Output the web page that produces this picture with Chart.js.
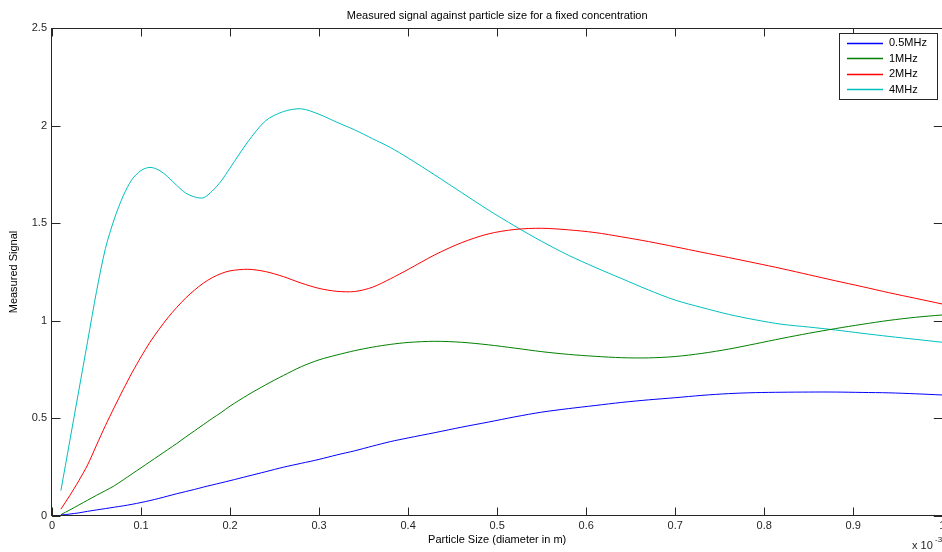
<!DOCTYPE html>
<html>
<head>
<meta charset="utf-8">
<script src="https://cdn.jsdelivr.net/npm/chart.js@4.4.1/dist/chart.umd.min.js"></script>
<style>
  html, body { margin: 0; padding: 0; background: #fff; overflow: hidden; width: 942px; height: 552px; }
  canvas { display: block; }
</style>
</head>
<body>
<canvas id="c" width="960" height="552"></canvas>
<script>
// Particle size (diameter, units of 1e-3 m)
const sizes = [0.01, 0.02, 0.03, 0.04, 0.05, 0.06, 0.07, 0.08, 0.09, 0.10,
  0.11, 0.12, 0.13, 0.14, 0.15, 0.16, 0.17, 0.18, 0.19, 0.20,
  0.22, 0.24, 0.26, 0.28, 0.30, 0.32, 0.34, 0.36, 0.38, 0.40,
  0.43, 0.46, 0.49, 0.52, 0.55, 0.58, 0.61, 0.64, 0.67, 0.70,
  0.73, 0.76, 0.79, 0.82, 0.85, 0.88, 0.91, 0.94, 0.97, 1.00];

const signal05MHz = [0.005, 0.010, 0.016, 0.024, 0.031, 0.038, 0.045, 0.052, 0.060, 0.069,
  0.079, 0.090, 0.102, 0.114, 0.125, 0.136, 0.148, 0.159, 0.170, 0.181,
  0.204, 0.227, 0.250, 0.270, 0.290, 0.313, 0.334, 0.358, 0.381, 0.400,
  0.427, 0.455, 0.481, 0.508, 0.532, 0.550, 0.566, 0.582, 0.595, 0.606,
  0.618, 0.627, 0.632, 0.634, 0.635, 0.635, 0.633, 0.631, 0.626, 0.620];

const signal1MHz = [0.007, 0.031, 0.056, 0.081, 0.106, 0.130, 0.155, 0.185, 0.216, 0.247,
  0.278, 0.309, 0.340, 0.371, 0.404, 0.436, 0.468, 0.500, 0.530, 0.563,
  0.620, 0.672, 0.720, 0.765, 0.800, 0.825, 0.847, 0.865, 0.879, 0.889,
  0.895, 0.890, 0.877, 0.860, 0.842, 0.828, 0.818, 0.811, 0.810, 0.817,
  0.833, 0.855, 0.882, 0.910, 0.936, 0.960, 0.982, 1.002, 1.018, 1.030];

const signal2MHz = [0.035, 0.105, 0.180, 0.262, 0.363, 0.463, 0.557, 0.648, 0.735, 0.815,
  0.890, 0.955, 1.015, 1.068, 1.116, 1.157, 1.193, 1.221, 1.242, 1.256,
  1.264, 1.252, 1.226, 1.193, 1.166, 1.151, 1.150, 1.172, 1.215, 1.263,
  1.338, 1.400, 1.445, 1.468, 1.474, 1.466, 1.452, 1.430, 1.406, 1.379,
  1.351, 1.324, 1.296, 1.267, 1.236, 1.205, 1.175, 1.144, 1.115, 1.086];

const signal4MHz = [0.130, 0.385, 0.640, 0.895, 1.150, 1.370, 1.522, 1.640, 1.725, 1.770,
  1.786, 1.772, 1.738, 1.694, 1.655, 1.635, 1.630, 1.665, 1.716, 1.783,
  1.917, 2.025, 2.072, 2.086, 2.058, 2.017, 1.978, 1.933, 1.888, 1.834,
  1.747, 1.657, 1.568, 1.485, 1.407, 1.336, 1.274, 1.216, 1.158, 1.106,
  1.068, 1.033, 1.005, 0.982, 0.968, 0.953, 0.936, 0.920, 0.905, 0.890];

const seriesLabels = ['0.5MHz', '1MHz', '2MHz', '4MHz'];
const seriesColors = ['#0000ff', '#008000', '#ff0000', '#00bfbf'];
const seriesValues = [signal05MHz, signal1MHz, signal2MHz, signal4MHz];

const FONT = 'Arial, "Liberation Sans", Helvetica, sans-serif';

const datasets = seriesValues.map((vals, i) => ({
  label: seriesLabels[i],
  data: sizes.map((s, j) => ({ x: s, y: vals[j] })),
  borderColor: seriesColors[i],
  backgroundColor: seriesColors[i],
  borderWidth: 1,
  pointRadius: 0,
  fill: false,
  tension: 0.3
}));

const fmt = v => String(Number(Number(v).toFixed(3)));

const matlabAxes = {
  id: 'matlabAxes',
  afterDraw(chart) {
    const { ctx, chartArea: a, scales } = chart;
    const xs = scales.x, ys = scales.y;
    ctx.save();
    ctx.strokeStyle = '#262626';
    ctx.lineWidth = 1;
    // box
    ctx.strokeRect(Math.round(a.left) - 0.5, Math.round(a.top) + 0.5,
      Math.round(a.right) - Math.round(a.left) + 1, Math.round(a.bottom) - Math.round(a.top) - 1);
    // inner ticks
    const tl = 8.5;
    ctx.beginPath();
    xs.ticks.forEach(t => {
      const px = Math.round(xs.getPixelForValue(t.value)) + 0.5;
      ctx.moveTo(px, a.bottom); ctx.lineTo(px, a.bottom - tl);
      ctx.moveTo(px, a.top); ctx.lineTo(px, a.top + tl);
    });
    ys.ticks.forEach(t => {
      const py = Math.round(ys.getPixelForValue(t.value)) + 0.5;
      ctx.moveTo(a.left, py); ctx.lineTo(a.left + tl, py);
      ctx.moveTo(a.right, py); ctx.lineTo(a.right - tl, py);
    });
    ctx.stroke();

    // exponent label
    ctx.fillStyle = '#262626';
    ctx.textBaseline = 'alphabetic';
    ctx.textAlign = 'left';
    ctx.font = '11px ' + FONT;
    ctx.fillText('x 10', 912, 549);
    ctx.font = '8px ' + FONT;
    ctx.fillText('-3', 935, 542);

    // legend
    const lx = 839.5, ly = 33.5, lw = 98, lh = 66;
    ctx.fillStyle = '#ffffff';
    ctx.fillRect(lx, ly, lw, lh);
    ctx.strokeStyle = '#262626';
    ctx.strokeRect(lx, ly, lw, lh);
    ctx.font = '11px ' + FONT;
    ctx.textBaseline = 'middle';
    chart.data.datasets.forEach((ds, i) => {
      const y = 42.5 + i * 15.6;
      ctx.strokeStyle = ds.borderColor;
      ctx.lineWidth = 1.3;
      ctx.beginPath();
      ctx.moveTo(847, Math.round(y) + 0.5);
      ctx.lineTo(883, Math.round(y) + 0.5);
      ctx.stroke();
      ctx.fillStyle = '#000';
      ctx.fillText(ds.label, 889, y + 0.5);
    });
    ctx.restore();
  }
};

new Chart(document.getElementById('c'), {
  type: 'line',
  data: { datasets },
  options: {
    responsive: false,
    animation: false,
    devicePixelRatio: 1,
    layout: { padding: { left: 0, right: 17.7, top: 0, bottom: 0 } },
    plugins: {
      legend: { display: false },
      tooltip: { enabled: false },
      title: {
        display: true,
        fullSize: false,
        text: 'Measured signal against particle size for a fixed concentration',
        color: '#000',
        font: { family: FONT, size: 11, weight: 'normal', lineHeight: 1.2 },
        padding: { top: 9, bottom: 5.8 }
      }
    },
    scales: {
      x: {
        type: 'linear',
        min: 0, max: 1,
        grid: { display: false, drawTicks: false },
        border: { display: false },
        ticks: { stepSize: 0.1, color: '#262626', padding: 3, maxRotation: 0,
          font: { family: FONT, size: 11 }, callback: v => fmt(v) },
        title: { display: true, text: 'Particle Size (diameter in m)', color: '#000',
          font: { family: FONT, size: 11 }, padding: { top: 0, bottom: 5.4 } },
        afterFit(scale) { scale.height = 36; }
      },
      y: {
        type: 'linear',
        min: 0, max: 2.5,
        grid: { display: false, drawTicks: false },
        border: { display: false },
        ticks: { stepSize: 0.5, color: '#262626', padding: 5,
          font: { family: FONT, size: 11 }, callback: v => fmt(v) },
        title: { display: true, text: 'Measured Signal', color: '#000',
          font: { family: FONT, size: 11 }, padding: { top: 7.4, bottom: 0 } },
        afterFit(scale) { scale.width = 52; }
      }
    }
  },
  plugins: [matlabAxes]
});
</script>
</body>
</html>
